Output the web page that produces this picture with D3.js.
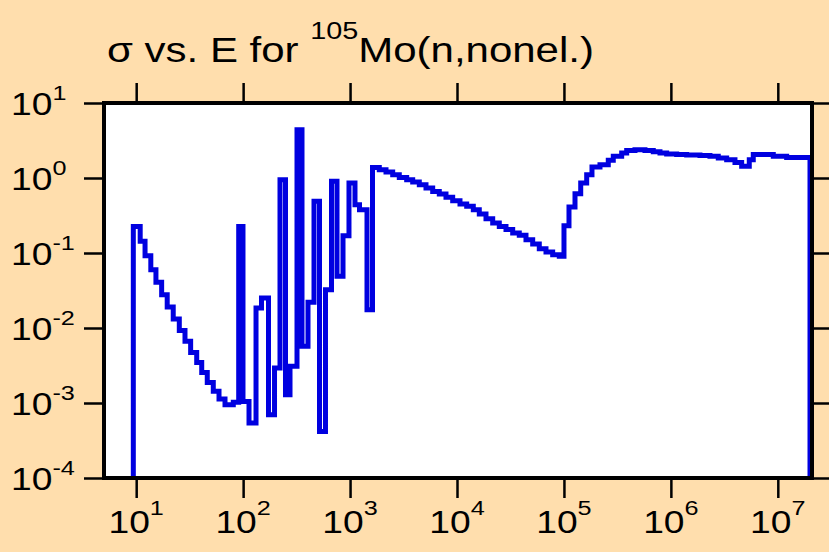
<!DOCTYPE html>
<html>
<head>
<meta charset="utf-8">
<script src="https://cdn.jsdelivr.net/npm/d3@7"></script>
<style>
  html, body { margin: 0; padding: 0; background: #FFDEAD; }
  svg { display: block; }
  text { font-family: "Liberation Sans", Arial, Helvetica, sans-serif; fill: #000; }
</style>
</head>
<body>
<svg id="chart" width="829" height="552"></svg>
<script>
// ---- data ----
const titleMain = "\u03c3 vs. E for ";
const titleSup = "105";
const titleRest = "Mo(n,nonel.)";

// group boundaries in eV (n+1 edges)
const binEdges = [
  9.4, 10.9, 12.1, 13.7, 15.3, 17.3, 19.5, 22.2, 25.3, 28.6, 32.3, 36.8, 41.0, 46.2, 52.6, 59.5, 67.7,
  80.9, 90.9, 99.7, 113.5, 132, 148.5, 172.7, 196.6, 221.2, 249, 274.4, 319, 355.3, 404.3, 460,
  517.8, 589, 670.5, 754.8, 859, 977, 1112, 1225, 1440, 1621, 1876, 2168, 2504, 2886, 3384,
  3852, 4441, 5129, 5925, 6830, 7889, 9113, 10666, 12321, 14206, 16162, 18668, 21568, 24860,
  28718, 33173, 38228, 44170, 51030, 58819, 67950, 78470, 90480, 100100, 111500, 126900,
  143500, 163200, 182900, 217300, 259800, 289300, 346700, 386200, 461600, 572500, 684500,
  791000, 913400, 1.133e6, 1.405e6, 1.871e6, 2.32e6, 2.775e6, 3.325e6, 3.976e6, 4.592e6,
  5.41e6, 5.896e6, 9.07e6, 1.21e7, 2.0e7
];
// cross section (barns) in each group (n values)
const crossSection = [
  0.226, 0.143, 0.092, 0.0598, 0.0406, 0.0278, 0.0191, 0.0132, 0.00929, 0.00664, 0.00473, 0.00348,
  0.00256, 0.00188, 0.00143, 0.00113, 0.000948,
  0.00102, 0.226, 0.00105, 0.00054, 0.0185, 0.0251, 0.000698, 0.00293, 0.948, 0.00129, 0.00309,
  4.41, 0.00569, 0.022, 0.488, 0.000418, 0.0324, 0.902, 0.0488, 0.17, 0.857, 0.441, 0.378, 0.0175,
  1.38, 1.29, 1.20, 1.107, 1.019, 0.948, 0.883, 0.815, 0.736, 0.662, 0.611, 0.552, 0.498, 0.45,
  0.419, 0.378, 0.331, 0.286, 0.251, 0.226, 0.205, 0.185, 0.172, 0.150, 0.132, 0.114, 0.103,
  0.0948, 0.0902,
  0.231, 0.41, 0.618, 0.857, 1.107, 1.40, 1.50, 1.72, 1.945, 2.15, 2.33, 2.38, 2.33, 2.24, 2.15,
  2.09, 2.05, 2.03, 2.00, 1.945, 1.85, 1.754, 1.614, 1.43, 1.754, 2.05, 1.945, 1.88
];

const xDomain = [5, 2e7];
const yDomain = [1e-4, 10];
const xTickExps = [1, 2, 3, 4, 5, 6, 7];
const yTickExps = [1, 0, -1, -2, -3, -4];

// ---- layout ----
const L = 104, R = 810, T = 103, B = 478;
const stretch = 1.2;

const svg = d3.select("#chart");
svg.append("rect").attr("x", 0).attr("y", 0).attr("width", 829).attr("height", 552).attr("fill", "#FFDEAD");

const x = d3.scaleLog().domain(xDomain).range([L, R]);
const y = d3.scaleLog().domain(yDomain).range([B, T]);

// plot area
svg.append("rect").attr("x", L).attr("y", T).attr("width", R - L + 2).attr("height", B - T)
  .attr("fill", "#fff");

// clip
svg.append("clipPath").attr("id", "clip").append("rect")
  .attr("x", L).attr("y", T - 2).attr("width", R - L + 2).attr("height", B - T + 2);

// step curve points
const pts = [[binEdges[0], yDomain[0]]];
crossSection.forEach((v, i) => pts.push([binEdges[i], v]));
pts.push([binEdges[binEdges.length - 1], crossSection[crossSection.length - 1]]);
pts.push([binEdges[binEdges.length - 1], yDomain[0]]);

const line = d3.line().x(d => x(d[0])).y(d => y(d[1])).curve(d3.curveStepAfter);
svg.append("path").attr("d", line(pts))
  .attr("fill", "none").attr("stroke", "#0000e0").attr("stroke-width", 5)
  .attr("stroke-linejoin", "miter").attr("clip-path", "url(#clip)");

// axes (ticks outward on all sides)
const tickLen = 18;
const xTicks = xTickExps.map(e => Math.pow(10, e));
const yTicks = yTickExps.map(e => Math.pow(10, e));

function styleAxis(g) {
  g.select(".domain").remove();
  g.selectAll(".tick line").attr("stroke", "#000").attr("stroke-width", 2.5);
  g.selectAll(".tick text").remove();
}
svg.append("g").attr("transform", `translate(0,${B + 2})`)
  .call(d3.axisBottom(x).tickValues(xTicks).tickSize(tickLen)).call(styleAxis);
svg.append("g").attr("transform", `translate(0,${T - 2})`)
  .call(d3.axisTop(x).tickValues(xTicks).tickSize(tickLen)).call(styleAxis);
svg.append("g").attr("transform", `translate(${L - 2},0)`)
  .call(d3.axisLeft(y).tickValues(yTicks).tickSize(tickLen)).call(styleAxis);
svg.append("g").attr("transform", `translate(${R + 3},0)`)
  .call(d3.axisRight(y).tickValues(yTicks).tickSize(tickLen)).call(styleAxis);

// frame
svg.append("rect").attr("x", L).attr("y", T).attr("width", R - L + 2).attr("height", B - T)
  .attr("fill", "none").attr("stroke", "#000").attr("stroke-width", 4);

// x tick labels
xTickExps.forEach(e => {
  const t = svg.append("text")
    .attr("transform", `translate(${x(Math.pow(10, e))},532.5) scale(${stretch},1)`)
    .attr("text-anchor", "middle").style("font-size", "31px");
  t.append("tspan").text("10");
  t.append("tspan").attr("dy", -17.5).style("font-size", "21px").text(String(e));
});

// y tick labels
yTickExps.forEach(e => {
  const t = svg.append("text")
    .attr("transform", `translate(11,${y(Math.pow(10, e)) + 12}) scale(${stretch},1)`)
    .attr("text-anchor", "start").style("font-size", "31px");
  t.append("tspan").text("10");
  t.append("tspan").attr("dy", -15).style("font-size", "21px").text(String(e));
});

// title
const tt = svg.append("text")
  .attr("transform", `translate(107,62.3) scale(${stretch},1)`)
  .style("font-size", "35px");
tt.append("tspan").text(titleMain);
tt.append("tspan").attr("dy", -23.5).style("font-size", "24px").text(titleSup);
tt.append("tspan").attr("dy", 23.5).text(titleRest);
</script>
</body>
</html>
